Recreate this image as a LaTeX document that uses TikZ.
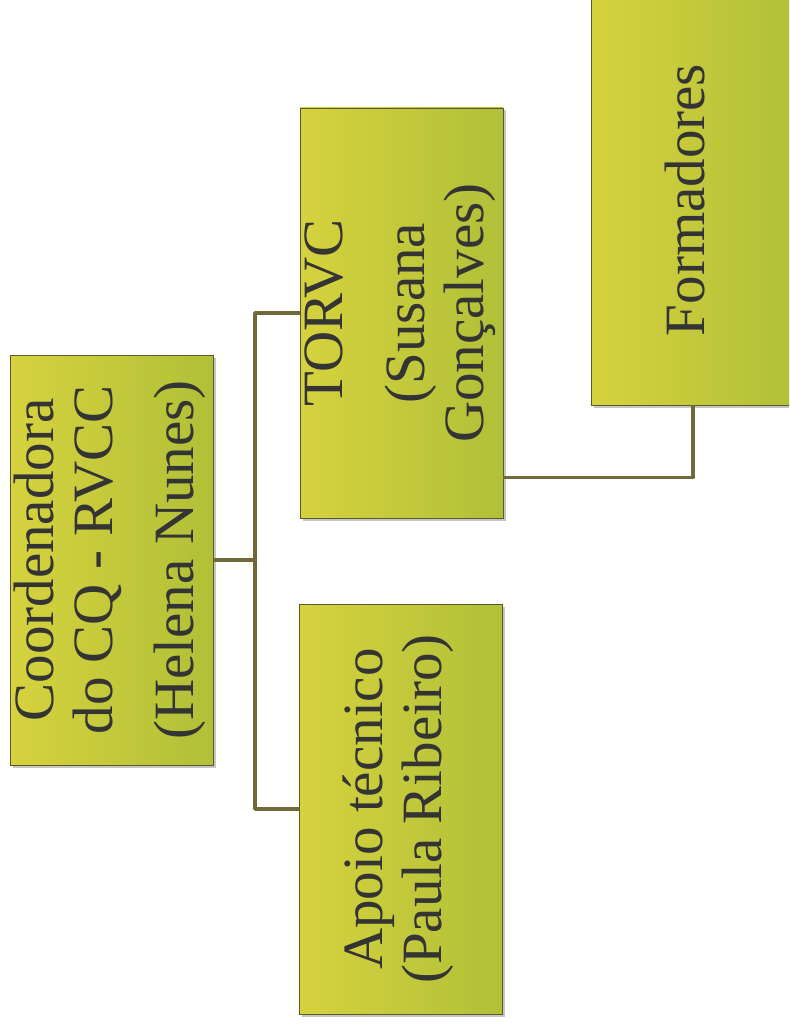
\documentclass[tikz,border=0pt]{standalone}
\usepackage{fontspec}
\setmainfont{Liberation Serif}
\usepackage{tikz}
\usetikzlibrary{positioning,shadows}
\definecolor{boxleft}{RGB}{214,210,62}
\definecolor{boxmid}{RGB}{224,220,80}
\definecolor{boxright}{RGB}{176,192,56}
\definecolor{linkol}{RGB}{112,106,58}
\definecolor{inkgray}{RGB}{52,52,52}
\newcommand{\vlabel}[1]{\rotatebox{90}{\begin{tabular}{@{}c@{}}#1\end{tabular}}}

\begin{document}
\begin{tikzpicture}[x=1pt, y=-1pt,
			role/.style={rectangle, draw=olive!55!black, line width=0.8pt, left color=boxleft, middle color=boxmid, right color=boxright, minimum width=203pt, minimum height=410pt, inner sep=0pt, text=inkgray, font=\fontsize{57}{59}\selectfont, drop shadow={shadow xshift=2.5pt, shadow yshift=-2.5pt, opacity=0.45}},
			link/.style={draw=linkol, line width=3.5pt, line join=round},
		]
			\clip (0,0) rectangle (789,1024);
			\fill[white] (0,0) rectangle (789,1024);

			\node[role] (coord) at (111.5,560) {\vlabel{Coordenadora\\do CQ - RVCC\\[22pt](Helena Nunes)}};
			\node[role] (torvc) at (401.5,313) {\vlabel{TORVC\\[23pt](Susana\\Gonçalves)}};
			\node[role] (apoio) at (400.5,809) {\vlabel{Apoio técnico\\(Paula Ribeiro)}};
			\node[role] (formadores) at (693,200) {\vlabel{Formadores}};

			\coordinate (fork) at (255,560);
			\draw[link] (coord.east) -- (fork) |- (torvc.west);
			\draw[link] (fork) |- (apoio.west);
			\draw[link] ([yshift=41pt]torvc.south east) -| (formadores.south);

		\end{tikzpicture}
\end{document}
